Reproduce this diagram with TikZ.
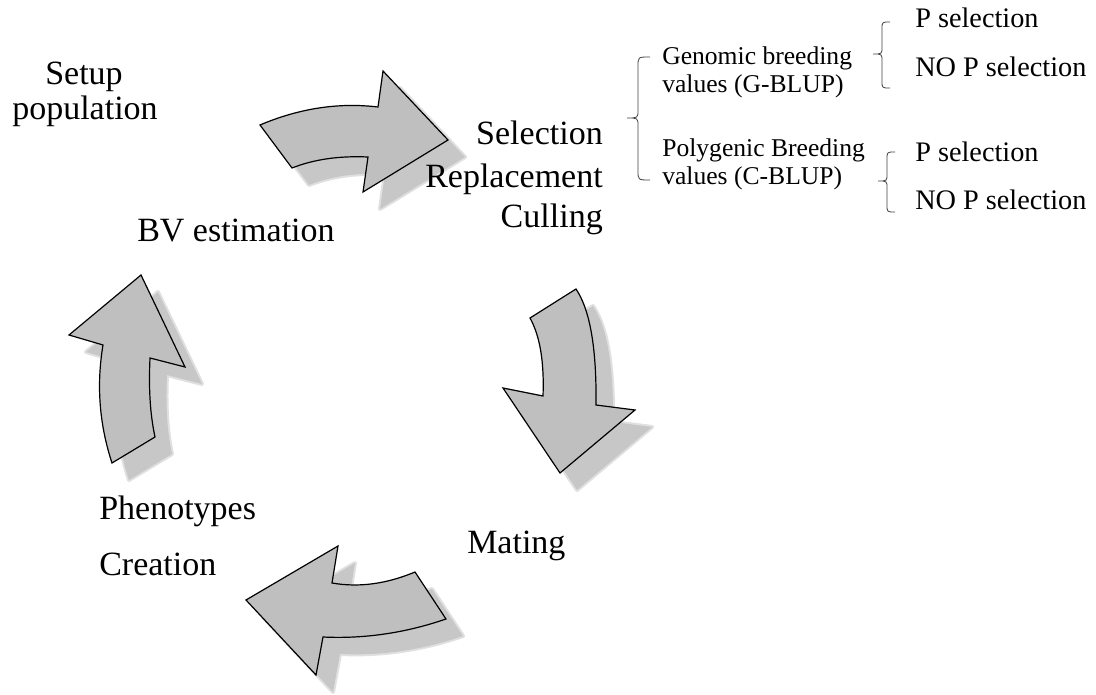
\documentclass[tikz,border=0pt]{standalone}
\usepackage{fontspec}
\setmainfont{Liberation Serif}
\newcommand\ArrowOnePath{(260,125) -- (292,168) .. controls (314,159.3) and (339.3,155.7) .. (368,157) -- (363,192) -- (448,140) -- (383,71) -- (378,107) .. controls (338.7,102.3) and (299.3,108.3) .. (260,125) -- cycle}
\newcommand\ArrowTwoPath{(530,318) -- (576,289) .. controls (590,309.7) and (596.7,348.3) .. (596,405) -- (635,410) -- (560,473) -- (503,388) -- (543,396) .. controls (544.3,362) and (540,336) .. (530,318) -- cycle}
\newcommand\ArrowThreePath{(415,572) -- (446,619) .. controls (405.3,633) and (364.3,639) .. (323,637) -- (316,675) -- (246,600) -- (338,546) -- (332,583) .. controls (358.7,587.7) and (386.3,584) .. (415,572) -- cycle}
\newcommand\ArrowFourPath{(112,463) -- (155,437) .. controls (149.7,412.3) and (148.7,386) .. (150,358) -- (185,367) -- (141,275) -- (69,335) -- (103,345) .. controls (96.3,385) and (99.3,424.3) .. (112,463) -- cycle}
\begin{document}
\begin{tikzpicture}[x=0.75pt,y=-0.75pt,
  arrowbody/.style={fill=black!25,draw=black,line width=0.9pt,line join=miter},
  arrowshadow/.style={fill=black!22},
  shadowedge/.style={draw=black!12,line width=3pt,line join=round},
  bracestyle/.style={draw=black!75,line width=0.6pt},
  mainlabel/.style={inner sep=0pt,font=\fontsize{25.5}{30}\selectfont},
  midlabel/.style={inner sep=0pt,font=\fontsize{19.2}{22}\selectfont},
  sublabel/.style={inner sep=0pt,font=\fontsize{21.2}{25}\selectfont}]
\useasboundingbox (0,0) rectangle (1096,695);
% shadows
\begin{scope}[shift={(17,17)}]
  \path[shadowedge] \ArrowOnePath;
  \path[shadowedge] \ArrowTwoPath;
  \path[shadowedge] \ArrowThreePath;
  \path[shadowedge] \ArrowFourPath;
  \fill[arrowshadow] \ArrowOnePath;
  \fill[arrowshadow] \ArrowTwoPath;
  \fill[arrowshadow] \ArrowThreePath;
  \fill[arrowshadow] \ArrowFourPath;
\end{scope}
% arrows
\path[arrowbody] \ArrowOnePath;
\path[arrowbody] \ArrowTwoPath;
\path[arrowbody] \ArrowThreePath;
\path[arrowbody] \ArrowFourPath;
% main labels
\node[mainlabel,anchor=base] (setup) at (84,85) {Setup};
\node[mainlabel,anchor=base] (pop) at (85,120) {population};
\node[mainlabel,anchor=base east] (sel) at (603,145) {Selection};
\node[mainlabel,anchor=base east] (repl) at (603,188) {Replacement};
\node[mainlabel,anchor=base east] (cull) at (603,228) {Culling};
\node[mainlabel,anchor=base west] (bv) at (137,242) {BV estimation};
\node[mainlabel,anchor=base west] (mating) at (467,553) {Mating};
\node[mainlabel,anchor=base west] (pheno) at (99,519) {Phenotypes};
\node[mainlabel,anchor=base west] (creation) at (99,575) {Creation};
% middle labels
\node[midlabel,anchor=base west] (gen1) at (662,65) {Genomic breeding};
\node[midlabel,anchor=base west] (gen2) at (662,93) {values (G-BLUP)};
\node[midlabel,anchor=base west] (poly1) at (662,157) {Polygenic Breeding};
\node[midlabel,anchor=base west] (poly2) at (662,185) {values (C-BLUP)};
% sub labels
\node[sublabel,anchor=base west] (ps1) at (915,28) {P selection};
\node[sublabel,anchor=base west] (nps1) at (915,77) {NO P selection};
\node[sublabel,anchor=base west] (ps2) at (915,162) {P selection};
\node[sublabel,anchor=base west] (nps2) at (915,210) {NO P selection};
% braces
\draw[bracestyle] (650,57) .. controls (638,57) .. (638,66) -- (638,110) .. controls (638,118) .. (627,118) .. controls (638,118) .. (638,126) -- (638,171) .. controls (638,180) .. (650,180);
\draw[bracestyle] (890,22) .. controls (882,22) .. (882,29) -- (882,47) .. controls (882,54) .. (873,54) .. controls (882,54) .. (882,61) -- (882,81) .. controls (882,88) .. (890,88);
\draw[bracestyle] (895,152) .. controls (887,152) .. (887,159) -- (887,174) .. controls (887,181) .. (878,181) .. controls (887,181) .. (887,188) -- (887,205) .. controls (887,212) .. (895,212);
\end{tikzpicture}
\end{document}
